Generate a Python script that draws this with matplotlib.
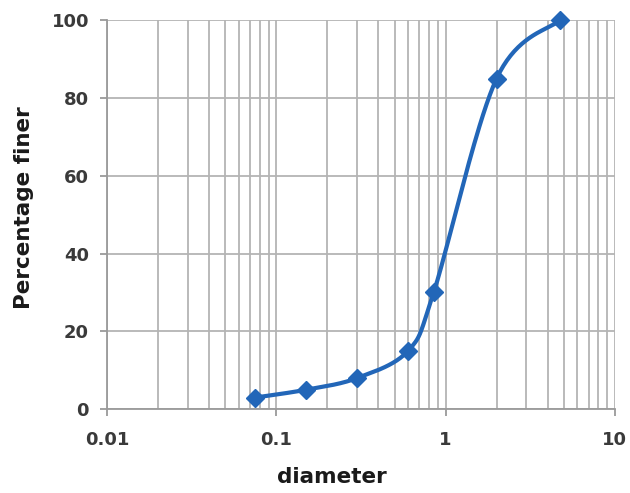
import numpy as np
import matplotlib
matplotlib.use("Agg")
import matplotlib.pyplot as plt
from matplotlib.ticker import LogLocator, FixedLocator, NullFormatter, FuncFormatter

# Data
diameter = [0.075, 0.15, 0.3, 0.6, 0.85, 2.0, 4.75]
percent_finer = [3, 5, 8, 15, 30, 85, 100]
x_ticks = [0.01, 0.1, 1, 10]
x_tick_labels = ["0.01", "0.1", "1", "10"]
y_ticks = [0, 20, 40, 60, 80, 100]

plt.rcParams['font.family'] = ['DejaVu Sans']

fig = plt.figure(figsize=(6.30, 4.93), dpi=100)
ax = fig.add_axes([0.170, 0.170, 0.806, 0.789])
ax.set_xscale('log')
ax.set_xlim(0.01, 10)
ax.set_ylim(0, 100)

# Smoothed line (Bezier smoothing in display-like space, as in Excel's smoothed line)
px_per_dec = 169.5
px_per_unit = 3.89
P = np.column_stack([np.log10(diameter) * px_per_dec, np.array(percent_finer) * px_per_unit])
n = len(P)
ext = np.vstack([P[0], P, P[-1]])
t = np.linspace(0, 1, 40)
seg = []
tension = 1 / 6
for i in range(n - 1):
    p0, p1, p2, p3 = ext[i], ext[i + 1], ext[i + 2], ext[i + 3]
    c1 = p1 + (p2 - p0) * tension
    c2 = p2 - (p3 - p1) * tension
    tt = t[:, None]
    b = ((1 - tt) ** 3) * p1 + 3 * ((1 - tt) ** 2) * tt * c1 + 3 * (1 - tt) * tt ** 2 * c2 + tt ** 3 * p2
    seg.append(b if i == 0 else b[1:])
curve = np.vstack(seg)
cx = 10 ** (curve[:, 0] / px_per_dec)
cy = curve[:, 1] / px_per_unit

color = '#2266b8'
ax.plot(cx, cy, color=color, lw=3.0, solid_capstyle='round', zorder=3, clip_on=False)
ax.plot(diameter, percent_finer, linestyle='none', marker='D', ms=9, color=color, zorder=4, clip_on=False)

# Grid
ax.xaxis.set_major_locator(FixedLocator(x_ticks))
ax.xaxis.set_minor_locator(LogLocator(base=10, subs=np.arange(2, 10)))
ax.xaxis.set_minor_formatter(NullFormatter())
ax.xaxis.set_major_formatter(FuncFormatter(lambda v, p: x_tick_labels[x_ticks.index(v)] if v in x_ticks else ""))
ax.yaxis.set_major_locator(FixedLocator(y_ticks))
grid_c = '#b4b4b4'
ax.grid(True, which='major', color=grid_c, lw=1.3)
ax.grid(True, which='minor', axis='x', color=grid_c, lw=1.3)
ax.set_axisbelow(True)

for s in ['top', 'right']:
    ax.spines[s].set_visible(False)
for s in ['left', 'bottom']:
    ax.spines[s].set_color('#9a9a9a')
    ax.spines[s].set_linewidth(1.3)

ax.tick_params(axis='both', which='major', direction='out', length=5, width=1.3, color='#9a9a9a',
               labelsize=13, labelcolor='#3a3a3a')
ax.tick_params(axis='x', which='major', pad=11)
ax.tick_params(axis='y', which='major', pad=8)
ax.tick_params(axis='x', which='minor', length=0)
for lab in ax.get_xticklabels() + ax.get_yticklabels():
    lab.set_fontweight('bold')

ax.set_xlabel('diameter', fontsize=15.5, fontweight='bold', color='#1a1a1a')
ax.set_ylabel('Percentage finer', fontsize=15.5, fontweight='bold', color='#1a1a1a')
ax.xaxis.set_label_coords(0.443, -0.148)
ax.yaxis.set_label_coords(-0.143, 0.517)

fig.savefig('out.png', dpi=100)
